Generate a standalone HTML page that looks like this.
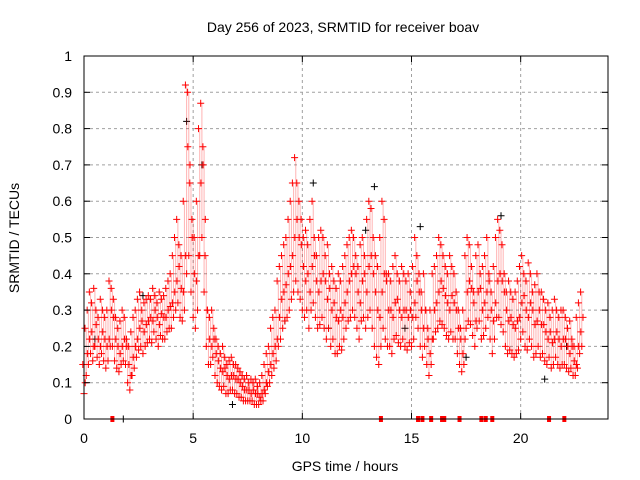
<!DOCTYPE html>
<html><head><meta charset="utf-8"><style>
html,body{margin:0;padding:0;background:#fff;width:640px;height:480px;overflow:hidden}
svg text{font-family:"Liberation Sans",sans-serif;font-size:14px;fill:#000}
</style></head><body>
<svg id="chart" width="640" height="480" xmlns="http://www.w3.org/2000/svg">
<text x="343" y="32" text-anchor="middle">Day 256 of 2023, SRMTID for receiver boav</text>
<text x="345" y="471" text-anchor="middle">GPS time / hours</text>
<text transform="translate(19,238) rotate(-90)" text-anchor="middle">SRMTID / TECUs</text>
<g id="grid"></g><g id="marks"></g><g id="axes"></g>
</svg>
<script>
const xTicks=[0,5,10,15,20];
const yTicks=[0,0.1,0.2,0.3,0.4,0.5,0.6,0.7,0.8,0.9,1];
const yTickLabels=["0","0.1","0.2","0.3","0.4","0.5","0.6","0.7","0.8","0.9","1"];
const hiVals=[.15,.25,.30,.35,.32,.36,.30,.28,.33,.30,.28,.30,.38,.36,.33,.28,.25,.27,.30,.28,.22,.20,.24,.28,.30,.33,.35,.30,.32,.33,.34,.33,.36,.34,.32,.35,.33,.34,.36,.38,.40,.45,.50,.55,.48,.45,.60,.92,.90,.65,.55,.50,.60,.80,.87,.75,.45,.30,.28,.30,.25,.22,.20,.18,.20,.17,.15,.16,.17,.15,.15,.14,.13,.12,.11,.12,.10,.11,.10,.11,.09,.10,.12,.15,.18,.20,.25,.28,.30,.38,.42,.45,.48,.50,.55,.60,.65,.72,.65,.60,.55,.50,.52,.48,.55,.60,.50,.45,.50,.52,.50,.45,.48,.40,.42,.38,.36,.40,.38,.42,.45,.48,.50,.52,.50,.45,.42,.48,.50,.45,.55,.60,.58,.50,.45,.42,.50,.60,.55,.40,.40,.38,.42,.45,.40,.38,.42,.40,.38,.40,.35,.42,.50,.45,.40,.35,.40,.30,.25,.30,.40,.42,.45,.50,.48,.45,.42,.40,.45,.42,.40,.35,.30,.25,.30,.45,.50,.48,.42,.35,.45,.48,.40,.42,.45,.50,.40,.35,.42,.50,.55,.52,.48,.40,.35,.38,.35,.33,.35,.38,.42,.45,.40,.38,.43,.40,.35,.37,.40,.35,.35,.33,.30,.32,.28,.30,.33,.30,.28,.30,.30,.28,.25,.27,.22,.20,.28,.32,.35];
const midVals=[.10,.18,.22,.24,.20,.26,.22,.20,.24,.22,.20,.22,.30,.28,.22,.20,.18,.20,.22,.20,.15,.12,.17,.20,.22,.25,.27,.24,.26,.27,.28,.27,.30,.28,.26,.29,.28,.28,.30,.31,.32,.35,.38,.42,.36,.35,.45,.75,.70,.50,.40,.38,.45,.65,.70,.55,.30,.22,.20,.22,.18,.16,.14,.13,.14,.12,.11,.12,.12,.11,.11,.10,.09,.08,.08,.08,.07,.08,.07,.07,.06,.07,.08,.10,.13,.15,.18,.20,.22,.28,.33,.35,.37,.40,.42,.45,.50,.55,.50,.48,.42,.38,.40,.35,.42,.45,.38,.35,.38,.40,.38,.33,.36,.30,.32,.28,.27,.30,.28,.32,.35,.38,.40,.42,.40,.35,.32,.38,.40,.35,.42,.45,.40,.35,.30,.28,.35,.40,.38,.30,.30,.28,.32,.33,.30,.28,.30,.30,.28,.30,.28,.32,.38,.35,.30,.25,.30,.22,.18,.22,.30,.32,.35,.38,.36,.34,.32,.30,.34,.32,.30,.25,.22,.18,.22,.35,.38,.36,.32,.27,.35,.36,.30,.32,.35,.38,.30,.27,.32,.38,.40,.38,.35,.30,.27,.28,.26,.25,.27,.28,.32,.34,.30,.28,.32,.30,.26,.27,.30,.26,.26,.24,.22,.24,.21,.22,.24,.22,.20,.22,.22,.20,.18,.20,.16,.15,.20,.24,.28];
const loVals=[.07,.12,.15,.18,.16,.20,.17,.15,.18,.16,.14,.16,.20,.20,.16,.14,.13,.15,.16,.15,.10,.08,.12,.14,.17,.19,.20,.18,.20,.21,.22,.21,.24,.22,.20,.23,.22,.22,.24,.25,.25,.28,.30,.32,.28,.27,.30,.40,.45,.35,.28,.25,.30,.45,.50,.35,.20,.15,.15,.17,.12,.10,.09,.08,.09,.07,.07,.08,.08,.07,.07,.06,.06,.05,.05,.05,.05,.05,.04,.04,.04,.05,.05,.07,.09,.10,.12,.14,.16,.20,.22,.25,.27,.28,.30,.33,.35,.38,.35,.33,.30,.28,.30,.25,.30,.32,.28,.25,.26,.28,.25,.22,.25,.20,.22,.18,.18,.20,.19,.22,.25,.27,.28,.30,.28,.25,.22,.27,.28,.25,.28,.30,.25,.20,.17,.15,.20,.25,.22,.20,.20,.18,.22,.23,.21,.20,.22,.20,.19,.21,.20,.22,.28,.25,.20,.17,.20,.15,.12,.15,.22,.24,.25,.27,.26,.25,.23,.22,.24,.22,.22,.18,.15,.13,.15,.25,.27,.26,.23,.20,.25,.27,.22,.23,.25,.28,.22,.18,.22,.28,.28,.26,.24,.20,.18,.19,.18,.17,.18,.19,.22,.24,.20,.19,.22,.20,.17,.18,.20,.17,.18,.16,.15,.17,.14,.15,.17,.15,.14,.15,.15,.14,.13,.14,.12,.12,.14,.18,.20];
const blackTimes=[0.5,2.7,4.7,5.4,6.8,9.2,10.5,11.2,12.9,13.3,14.7,15.4,17.5,19.1,21.1,22.1];
const blackVals=[0.22,0.34,0.82,0.70,0.04,0.27,0.65,0.25,0.52,0.64,0.25,0.53,0.17,0.56,0.11,0.20];
const zeroRedTimes=[1.3,13.6,15.3,15.5,15.9,16.4,16.5,17.2,18.2,18.4,18.7,21.3,22.0];
const zeroBlackTimes=[1.8];
const stepHours=0.1;

const X0=84,X1=608,Y0=419,Y1=56,XMAX=24;
const xs=v=>X0+(X1-X0)*v/XMAX;
const ys=v=>Y0-(Y0-Y1)*v;
const NS="http://www.w3.org/2000/svg";
function mk(tag,attrs,parent){const e=document.createElementNS(NS,tag);for(const k in attrs)e.setAttribute(k,attrs[k]);parent.appendChild(e);return e;}
const grid=document.getElementById('grid'),marks=document.getElementById('marks'),axes=document.getElementById('axes');
xTicks.forEach(t=>{const x=xs(t);
 if(t>0){const g=mk('line',{x1:x,x2:x,y1:Y1,y2:Y0,stroke:'#a0a0a0','stroke-dasharray':'3,3'},grid);
 
 }
 const l=mk('line',{x1:x,x2:x,y1:Y0,y2:Y0-6,stroke:'#000'},axes);
 
 
 const l2=mk('line',{x1:x,x2:x,y1:Y1,y2:Y1+6,stroke:'#000'},axes);
 
 
 const tx=mk('text',{x:x,y:Y0+24,'text-anchor':'middle'},axes);tx.textContent=String(t);
 
 });
yTicks.forEach((t,i)=>{const y=ys(t);
 if(t>0&&t<1){const g=mk('line',{x1:X0,x2:X1,y1:y,y2:y,stroke:'#a0a0a0','stroke-dasharray':'3,3'},grid);
 
 }
 const l=mk('line',{x1:X0,x2:X0+6,y1:y,y2:y,stroke:'#000'},axes);
 
 
 const l2=mk('line',{x1:X1,x2:X1-6,y1:y,y2:y,stroke:'#000'},axes);
 
 
 const tx=mk('text',{x:X0-12,y:y+5,'text-anchor':'end'},axes);tx.textContent=yTickLabels[i];
 
 });
const frame=mk('rect',{x:X0,y:Y1,width:X1-X0,height:Y0-Y1,fill:'none',stroke:'#000'},axes);


function plus(x,y,c){const p=mk('path',{d:`M${x-3.5},${y}h7M${x},${y-3.5}v7`,stroke:c,'stroke-width':1,fill:'none'},marks);return p;}
blackTimes.forEach((t,i)=>{const p=plus(xs(t),ys(blackVals[i]),'#000');
 
 });
const offs=[-1.2,1.2,0];
hiVals.forEach((h,i)=>{const x=xs(i*stepHours);
 const r=mk('line',{x1:x,x2:x,y1:ys(h),y2:ys(loVals[i]),stroke:'#f00','stroke-width':1,'stroke-opacity':0.3},marks);
 
 
 [h,midVals[i],loVals[i]].forEach((v,k)=>{const p=plus(x+offs[k],ys(v),'#f00');
 
 });});
zeroRedTimes.forEach(t=>{const r=mk('rect',{x:xs(t)-2,y:Y0-3,width:4,height:6,fill:'#f00'},marks);
 
 });
zeroBlackTimes.forEach(t=>{const p=plus(xs(t),Y0,'#000');
 
 });
</script>
</body></html>
